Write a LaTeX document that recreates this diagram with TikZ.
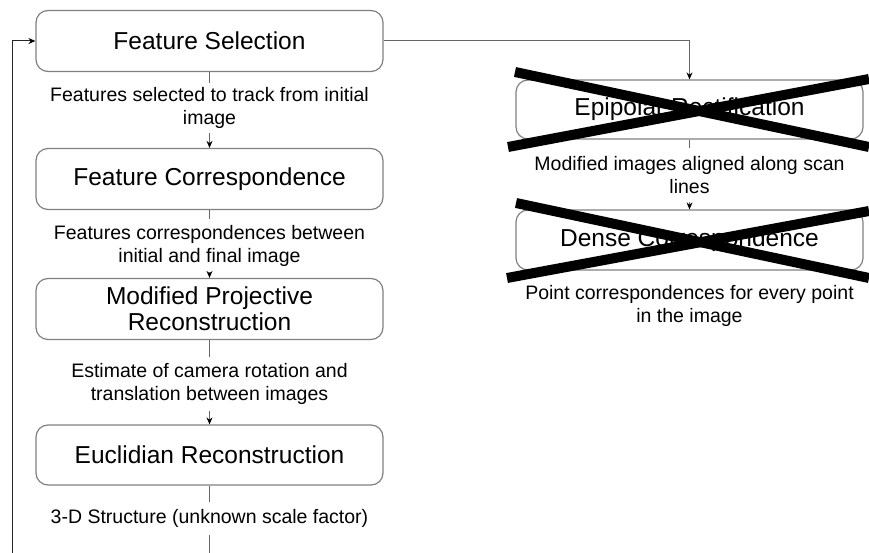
\documentclass[tikz,border=0pt]{standalone}
\usepackage{fontspec}
\setmainfont{Liberation Sans}
\usetikzlibrary{arrows.meta}

\tikzset{
  stage/.style={draw=black!50, line width=1.2pt, rounded corners=12pt,
    minimum width=347pt, minimum height=61pt, inner sep=0pt,
    align=center, font=\fontsize{24.5}{26}\selectfont},
  note/.style={inner sep=0pt, align=center,
    font=\fontsize{19.5}{23}\selectfont},
  conn/.style={draw=black!60, line width=1pt},
  flow/.style={conn, -{Stealth[length=7pt,width=6pt,color=black]}},
  strike/.style={line width=10pt, black, line cap=butt}
}

\begin{document}
\begin{tikzpicture}[x=1pt,y=-1pt]
  \useasboundingbox (0,0) rectangle (869,553);

  % main pipeline (left column)
  \node[stage] (sel)  at (209.5,41)  {Feature Selection};
  \node[note, minimum height=50pt] (n1) at (209.5,108)
    {Features selected to track from initial\\image};
  \node[stage] (corr) at (209.5,179) {Feature Correspondence};
  \node[note, minimum height=53pt] (n2) at (209.5,245.5)
    {Features correspondences between\\initial and final image};
  \node[stage, font=\fontsize{24.5}{26}\selectfont] (proj) at (209.5,309)
    {Modified Projective\\Reconstruction};
  \node[note, minimum height=54pt] (n3) at (209.5,384)
    {Estimate of camera rotation and\\translation between images};
  \node[stage, minimum height=60pt] (eucl) at (209.5,455) {Euclidian Reconstruction};
  \node[note, minimum height=33pt] (n4) at (209.5,518.5)
    {3-D Structure (unknown scale factor)};
  \coordinate (tail) at (209.5,553);
  \coordinate (loop) at (12,553);

  % abandoned branch (right column)
  \node[stage, minimum height=59pt] (epi) at (689.5,109.5) {Epipolar Rectification};
  \node[note, minimum height=54pt] (n5) at (689.5,175)
    {Modified images aligned along scan\\lines};
  \node[stage, minimum height=60pt] (dense) at (689.5,240) {Dense Correspondence};
  \node[note] (n6) at (689.5,306)
    {Point correspondences for every point\\in the image};

  % connectors
  \draw[conn] (sel.south) -- (n1.north);
  \draw[flow] (n1.south) -- (corr.north);
  \draw[conn] (corr.south) -- (n2.north);
  \draw[flow] (n2.south) -- (proj.north);
  \draw[conn] (proj.south) -- (n3.north);
  \draw[flow] (n3.south) -- (eucl.north);
  \draw[conn] (eucl.south) -- (n4.north);
  \draw[conn] (n4.south) -- (tail);
  \draw[flow, draw=black!85] (loop) |- (sel.west);
  \draw[flow] (sel.east) -| (epi.north);
  \draw[conn] (epi.south) -- (n5.north);
  \draw[flow] (n5.south) -- (dense.north);

  % crossed-out stages
  \draw[strike] (515,72) -- (869,147);
  \draw[strike] (508,147) -- (869,79);
  \draw[strike] (516,203) -- (869,278);
  \draw[strike] (507,278) -- (869,211);
\end{tikzpicture}
\end{document}
